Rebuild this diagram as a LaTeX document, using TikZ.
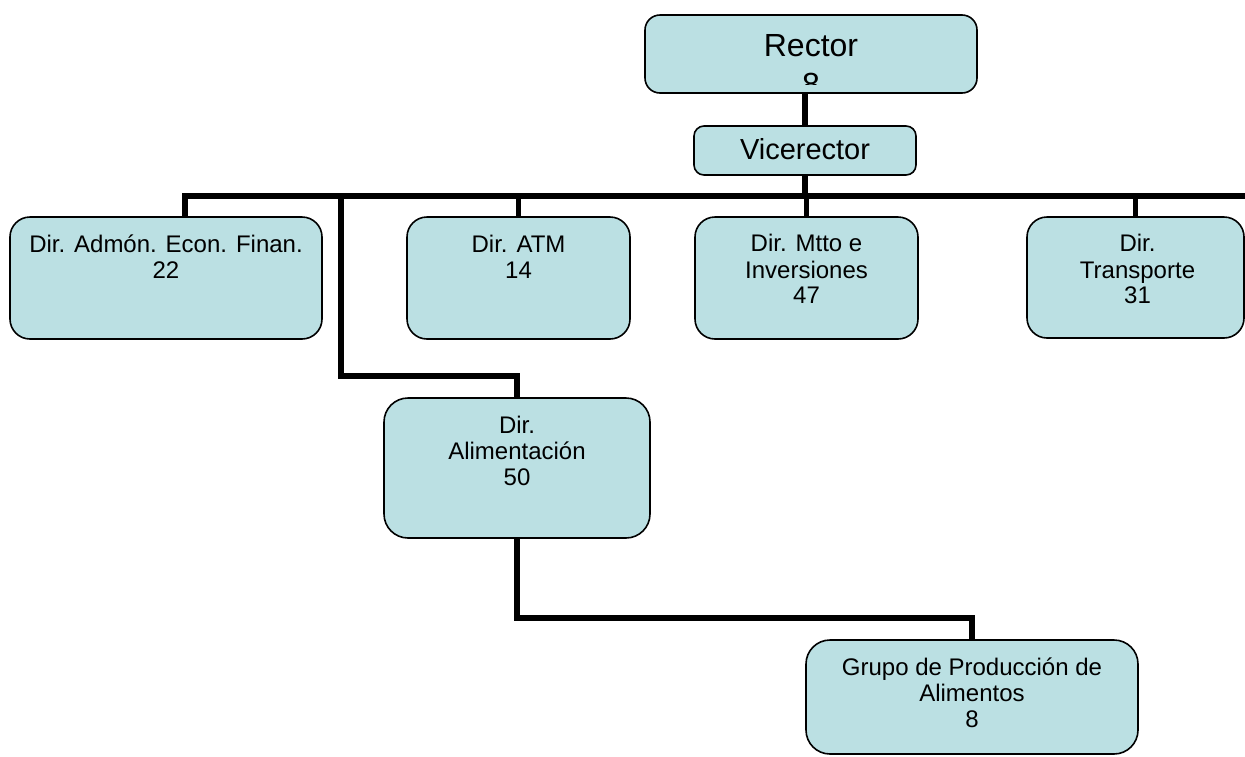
\documentclass[tikz,border=0pt]{standalone}
\usepackage{fontspec}
\setmainfont{Liberation Sans}
\usetikzlibrary{fit,calc}
\definecolor{boxfill}{HTML}{BBE0E3}
\begin{document}
\begin{tikzpicture}[x=0.5pt, y=-0.5pt, line join=miter,
	box/.style={draw=black, line width=0.8pt, fill=boxfill, inner sep=0pt, rounded corners=#1},
	box/.default=10pt,
	txt/.style={font=\fontsize{12}{13}\selectfont, align=center, inner sep=0pt, anchor=north,
		execute at begin node={\rule{0pt}{11pt}}},
	bigtxt/.style={align=center, inner sep=0pt},
	link/.style={line width=2.8pt}]
	\useasboundingbox (0,0) rectangle (1245,756);
	% boxes
	\node[box=7.5pt, fit={(645,15) (977,93)}] (rector) {};
	\node[box=5pt, fit={(694,126) (916,175)}] (vice) {};
	\node[box, fit={(10,217) (322,339)}] (admon) {};
	\node[box, fit={(407,217) (630,339)}] (atm) {};
	\node[box, fit={(695,217) (918,339)}] (mtto) {};
	\node[box, fit={(1027,217) (1244,338)}] (transp) {};
	\node[box=12pt, fit={(384,398) (650,538)}] (alim) {};
	\node[box=12pt, fit={(806,640) (1138,754)}] (grupo) {};
	% texts
	\begin{scope}
		\clip (645,15) rectangle (977,84);
		\node[bigtxt, font=\fontsize{16}{19.5}\selectfont, anchor=north,
			execute at begin node={\rule{0pt}{12pt}}] (rector-t) at ($(rector.north)+(0,20)$) {Rector\\8};
	\end{scope}
	\node[bigtxt, font=\fontsize{14.5}{17}\selectfont, anchor=base] (vice-t) at ($(vice.north)+(0,34)$) {Vicerector};
	\node[txt] (admon-t) at ($(admon.north)+(0,18)$) {Dir. Admón. Econ. Finan.\\22};
	\node[txt] (atm-t) at ($(atm.north)+(0,18)$) {Dir. ATM\\14};
	\node[txt] (mtto-t) at ($(mtto.north)+(0,18)$) {Dir. Mtto e\\Inversiones\\47};
	\node[txt] (transp-t) at ($(transp.north)+(2,18)$) {Dir.\\Transporte\\31};
	\node[txt] (alim-t) at ($(alim.north)+(0,18)$) {Dir.\\Alimentación\\50};
	\node[txt] (grupo-t) at ($(grupo.north)+(0,18)$) {Grupo de Producción de\\Alimentos\\8};
	% connectors
	\coordinate (bus-l) at (185,196);
	\coordinate (bus-r) at (1245,196);
	\coordinate (bend-a) at (341,376);
	\coordinate (bend-b) at (972,618);
	\draw[link] (rector.south -| vice.north) -- (vice.north);
	\draw[link] (vice.south) -- (vice.south |- bus-l);
	\draw[link] (bus-l |- admon.north) -- (bus-l) -- (bus-r);
	\draw[link] (atm.north |- bus-l) -- (atm.north);
	\draw[link] (mtto.north |- bus-l) -- (mtto.north);
	\draw[link] (transp.north |- bus-l) -- (transp.north);
	\draw[link] (bend-a |- bus-l) -- (bend-a) -| (alim.north);
	\draw[link] (alim.south) |- (bend-b) -- (grupo.north);
\end{tikzpicture}
\end{document}
